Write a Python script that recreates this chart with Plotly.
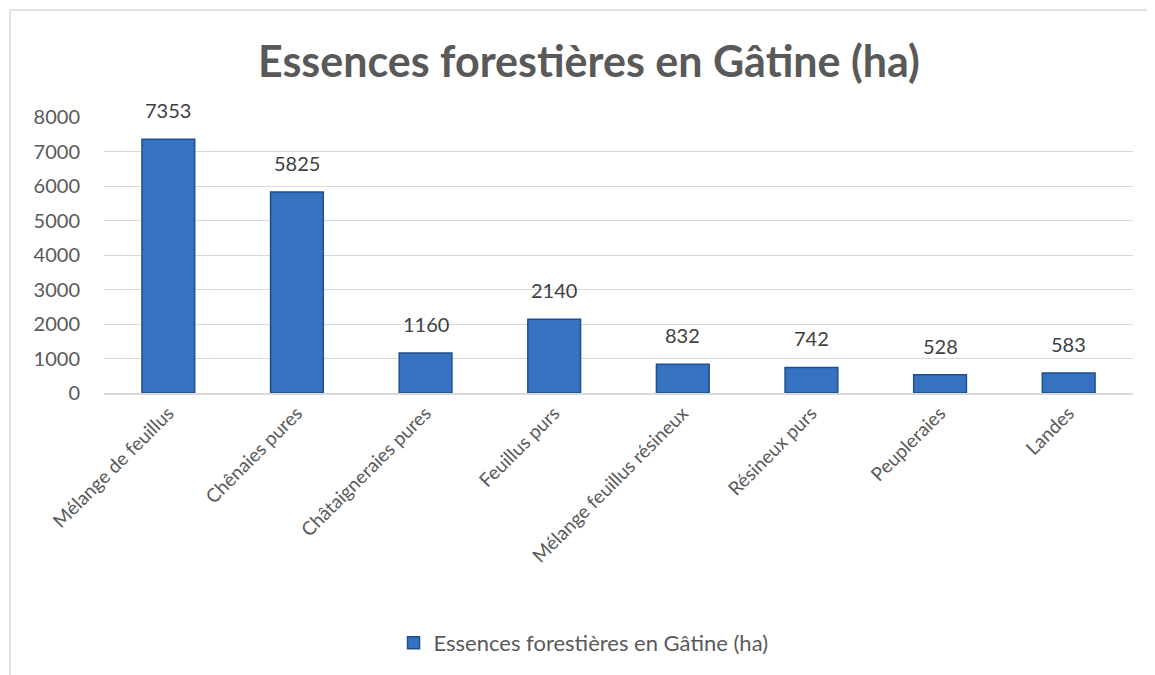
import plotly.graph_objects as go

categories = ["Mélange de feuillus", "Chênaies pures", "Châtaigneraies pures", "Feuillus purs",
              "Mélange feuillus résineux", "Résineux purs", "Peupleraies", "Landes"]
values = [7353, 5825, 1160, 2140, 832, 742, 528, 583]
series_name = "Essences forestières en Gâtine (ha)"
y_ticks = [0, 1000, 2000, 3000, 4000, 5000, 6000, 7000, 8000]

FONT = "Lato, 'Open Sans', sans-serif"
GREY = "#595959"

fig = go.Figure()
fig.add_trace(go.Bar(
    x=categories, y=values, name=series_name,
    marker=dict(color="#3672C0", line=dict(color="#1E4F8F", width=1.5)),
    width=0.41,
))

for c, v in zip(categories, values):
    fig.add_annotation(x=c, y=v, text=str(v), showarrow=False, yshift=29,
                       font=dict(family=FONT, size=20, color="#404040"))

# chart border (outer frame)
fig.add_shape(type="rect", xref="paper", yref="paper",
              x0=-0.0913, x1=1.05, y0=-1.2, y1=1.3877,
              line=dict(color="#D9D9D9", width=1.5), fillcolor="rgba(0,0,0,0)", layer="below")

fig.update_layout(
    width=1155, height=675,
    margin=dict(l=96, r=30, t=109, b=290),
    paper_bgcolor="white", plot_bgcolor="white",
    title=dict(text="<b>" + series_name + "</b>", x=0.503, xanchor="center",
               y=0.92, yanchor="middle",
               font=dict(family=FONT, size=43, color=GREY)),
    font=dict(family=FONT, color=GREY),
    showlegend=True,
    legend=dict(orientation="h", x=0.466, xanchor="center", y=-0.906, yanchor="middle",
                font=dict(family=FONT, size=22, color=GREY)),
    bargap=0.59,
)
fig.update_xaxes(tickangle=-45, tickfont=dict(family=FONT, size=19, color=GREY),
                 showline=True, linecolor="#D9D9D9", linewidth=1.5, ticks="", showgrid=False)
fig.update_yaxes(range=[0, 8000], tickvals=y_ticks, tickfont=dict(family=FONT, size=20, color=GREY),
                 showgrid=True, gridcolor="#D9D9D9", gridwidth=1.2, zeroline=False,
                 ticks="", ticklabelstandoff=23)

fig.write_html("out.html")
